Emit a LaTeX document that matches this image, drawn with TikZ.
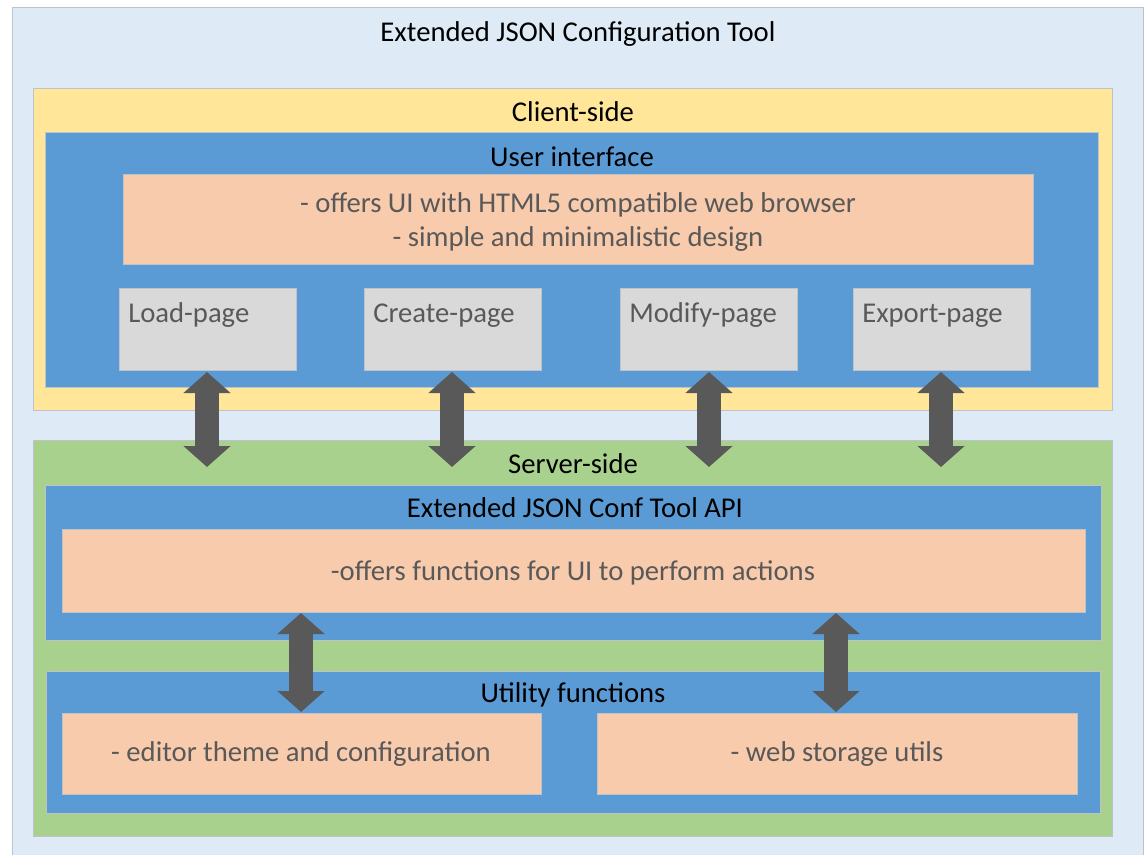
\documentclass[tikz,border=0pt]{standalone}
\usepackage{fontspec}
\setmainfont{Carlito}
\usetikzlibrary{fit,arrows.meta}
\definecolor{outerbg}{HTML}{DEEBF7}
\definecolor{yellowbg}{HTML}{FFE699}
\definecolor{bluebg}{HTML}{5B9BD5}
\definecolor{orangebg}{HTML}{F8CBAD}
\definecolor{graybg}{HTML}{D9D9D9}
\definecolor{greenbg}{HTML}{A9D18E}
\definecolor{arrowcol}{HTML}{595959}
\definecolor{textgray}{HTML}{595959}
\definecolor{edge}{HTML}{BDC3C9}
\tikzset{
  area/.style={inner sep=0pt, draw=edge, line width=0.6pt},
  outerbox/.style={area, fill=outerbg},
  sidebox/.style={area},
  bluebox/.style={area, fill=bluebg},
  infobox/.style={area, fill=orangebg},
  pagebox/.style={area, fill=graybg},
  heading/.style={font=\fontsize{21.5}{25.5}\selectfont, text=black, inner sep=0pt},
  bodytext/.style={font=\fontsize{21.5}{25.5}\selectfont, text=textgray, inner sep=0pt, align=center},
  pagelabel/.style={font=\fontsize{21.5}{25.5}\selectfont, text=textgray, inner sep=0pt, anchor=base west},
  dblarrow/.style={draw=arrowcol, line width=18pt,
    {Triangle[width=34.5pt,length=15.75pt]}-{Triangle[width=34.5pt,length=15.75pt]}},
}
\begin{document}
\begin{tikzpicture}[x=0.75pt,y=-0.75pt]
\useasboundingbox (0,0) rectangle (1147,854);
% outer
\node[outerbox, fit={(12,7) (1143,870)}] (outer) {};
\node[heading, anchor=base] (title) at (578,41) {Extended JSON Configuration Tool};
% client side
\node[sidebox, fill=yellowbg, fit={(33,88) (1112,410)}] (client) {};
\node[heading, anchor=base] (clientlbl) at (573,121) {Client-side};
\node[bluebox, fit={(45,132) (1098,387)}] (ui) {};
\node[heading, anchor=base] (uilbl) at (572,166) {User interface};
\node[infobox, fit={(123,174) (1033,264)}] (uiinfo) {};
\node[bodytext, anchor=base] (uitext) at (578,246) {- offers UI with HTML5 compatible web browser\\- simple and minimalistic design};
\node[pagebox, fit={(119,288) (296,370)}] (load) {};
\node[pagebox, fit={(364,288) (541,370)}] (create) {};
\node[pagebox, fit={(620,288) (797,370)}] (modify) {};
\node[pagebox, fit={(853,288) (1030,370)}] (export) {};
\node[pagelabel] (loadlbl) at (128,322) {Load-page};
\node[pagelabel] (createlbl) at (373,322) {Create-page};
\node[pagelabel] (modifylbl) at (629,322) {Modify-page};
\node[pagelabel] (exportlbl) at (862,322) {Export-page};
% server side
\node[sidebox, fill=greenbg, fit={(33,440) (1112,836)}] (server) {};
\node[heading, anchor=base] (serverlbl) at (573,473) {Server-side};
\node[bluebox, fit={(45,485) (1101,640)}] (api) {};
\node[heading, anchor=base] (apilbl) at (575,517) {Extended JSON Conf Tool API};
\node[infobox, fit={(62,529) (1085,612)}] (apiinfo) {};
\node[bodytext, anchor=base] (apitext) at (573,580) {-offers functions for UI to perform actions};
\node[bluebox, fit={(46,671) (1100,813)}] (util) {};
\node[heading, anchor=base] (utillbl) at (573,702) {Utility functions};
\node[infobox, fit={(62,713) (541,794)}] (editor) {};
\node[bodytext, anchor=base] (editortext) at (301,761) {- editor theme and configuration};
\node[infobox, fit={(597,713) (1077,794)}] (storage) {};
\node[bodytext, anchor=base] (storagetext) at (837,761) {- web storage utils};
% arrows client <-> server
\coordinate (a1t) at (207,372);
\coordinate (a1b) at (207,467);
\coordinate (a2t) at (452,372);
\coordinate (a2b) at (452,467);
\coordinate (a3t) at (709,372);
\coordinate (a3b) at (709,467);
\coordinate (a4t) at (941,372);
\coordinate (a4b) at (941,467);
\draw[dblarrow] (a1t) -- (a1b);
\draw[dblarrow] (a2t) -- (a2b);
\draw[dblarrow] (a3t) -- (a3b);
\draw[dblarrow] (a4t) -- (a4b);
% arrows api <-> utility
\coordinate (b1t) at (301,613);
\coordinate (b1b) at (301,712);
\coordinate (b2t) at (836,613);
\coordinate (b2b) at (836,712);
\draw[dblarrow] (b1t) -- (b1b);
\draw[dblarrow] (b2t) -- (b2b);
\end{tikzpicture}
\end{document}
